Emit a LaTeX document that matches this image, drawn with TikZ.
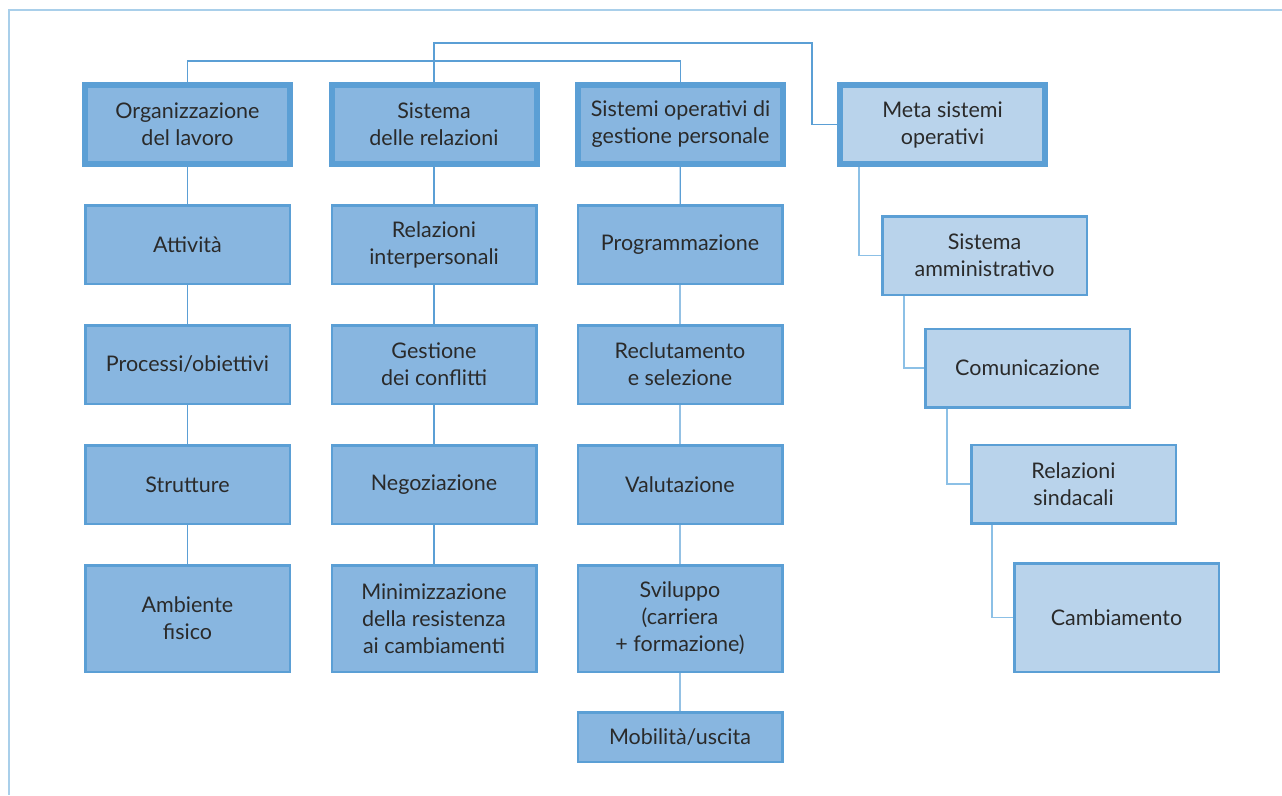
\documentclass[tikz,border=0pt]{standalone}
\usepackage{fontspec}
\setmainfont{Lato}
\usetikzlibrary{calc}
\definecolor{frameblue}{HTML}{A9CFEA}
\definecolor{lineblue}{HTML}{5B9FD5}
\definecolor{softline}{HTML}{8CC0E6}
\definecolor{boxblue}{HTML}{88B6E0}
\definecolor{paleblue}{HTML}{B9D3EB}
\definecolor{ink}{HTML}{2A2A2A}

\begin{document}
\begin{tikzpicture}[x=1pt, y=-1pt,
    box/.style = {draw=lineblue, line width=2.5pt, fill=boxblue, text=ink, inner sep=0pt,
        minimum width=204.5pt, minimum height=78.5pt, align=center,
        font=\fontsize{21.5}{27}\selectfont},
    head/.style = {box, line width=6pt, minimum width=205pt, minimum height=79pt},
    meta/.style = {box, fill=paleblue},
    conn/.style = {draw=lineblue, line width=1.3pt},
    metaconn/.style = {draw=softline, line width=1.5pt}]

    \useasboundingbox (0,0) rectangle (1282,795);

    % frame
    \draw[frameblue, line width=2pt] (1282,10) -- (9,10) -- (9,795);

    % headers
    \node[head] (org) at (187.5,124.5) {Organizzazione\\del lavoro};
    \node[head] (srel) at (434,124.5) {Sistema\\delle relazioni};
    \node[head] (sop) at (680.5,124.5) {Sistemi operativi di\\gestione personale};
    \node[head, fill=paleblue] (meta) at (942.5,124.5) {Meta sistemi\\operativi};

    % first column
    \node[box] (att) at (187.5,244.5) {Attività};
    \node[box] (proc) at (187.5,364.5) {Processi/obiettivi};
    \node[box] (strut) at (187.5,484.5) {Strutture};
    \node[box, minimum height=106.5pt] (amb) at (187.5,618.5) {Ambiente\\fisico};

    % second column
    \node[box] (rint) at (434,244.5) {Relazioni\\interpersonali};
    \node[box] (conf) at (434,364.5) {Gestione\\dei conflitti};
    \node[box] (neg) at (434,484.5) {Negoziazione};
    \node[box, minimum height=106.5pt] (mini) at (434,618.5) {Minimizzazione\\della resistenza\\ai cambiamenti};

    % third column
    \node[box] (prog) at (680,244.5) {Programmazione};
    \node[box] (recl) at (680,364.5) {Reclutamento\\e selezione};
    \node[box] (val) at (680,484.5) {Valutazione};
    \node[box, minimum height=106.5pt] (svil) at (680,618.5) {Sviluppo\\(carriera\\+ formazione)};
    \node[box, minimum height=49.5pt] (mob) at (680,737) {Mobilità/uscita};

    % meta systems
    \node[meta] (amm) at (984.5,255.5) {Sistema\\amministrativo};
    \node[meta] (com) at (1027.5,368) {Comunicazione};
    \node[meta] (sind) at (1073.5,484) {Relazioni\\sindacali};
    \node[meta, minimum height=108.5pt] (camb) at (1116.5,617.5) {Cambiamento};

    % connectors
    \draw[conn] (org.north) -- ++(0,-21) -| (sop.north);
    \draw[conn] (srel.north) -- ++(0,-39) -| ([xshift=-25pt]meta.west) -- (meta.west);
    \draw[conn] (org) -- (att) -- (proc) -- (strut) -- (amb);
    \draw[conn] (srel) -- (rint) -- (conf) -- (neg) -- (mini);
    \draw[conn] (sop) -- (prog) -- (recl) -- (val) -- (svil) -- (mob);
    \draw[metaconn] ([xshift=22pt]meta.south west) |- (amm.west);
    \draw[metaconn] ([xshift=23pt]amm.south west) |- (com.west);
    \draw[metaconn] ([xshift=23pt]com.south west) |- (sind.west);
    \draw[metaconn] ([xshift=22pt]sind.south west) |- (camb.west);

\end{tikzpicture}
\end{document}
